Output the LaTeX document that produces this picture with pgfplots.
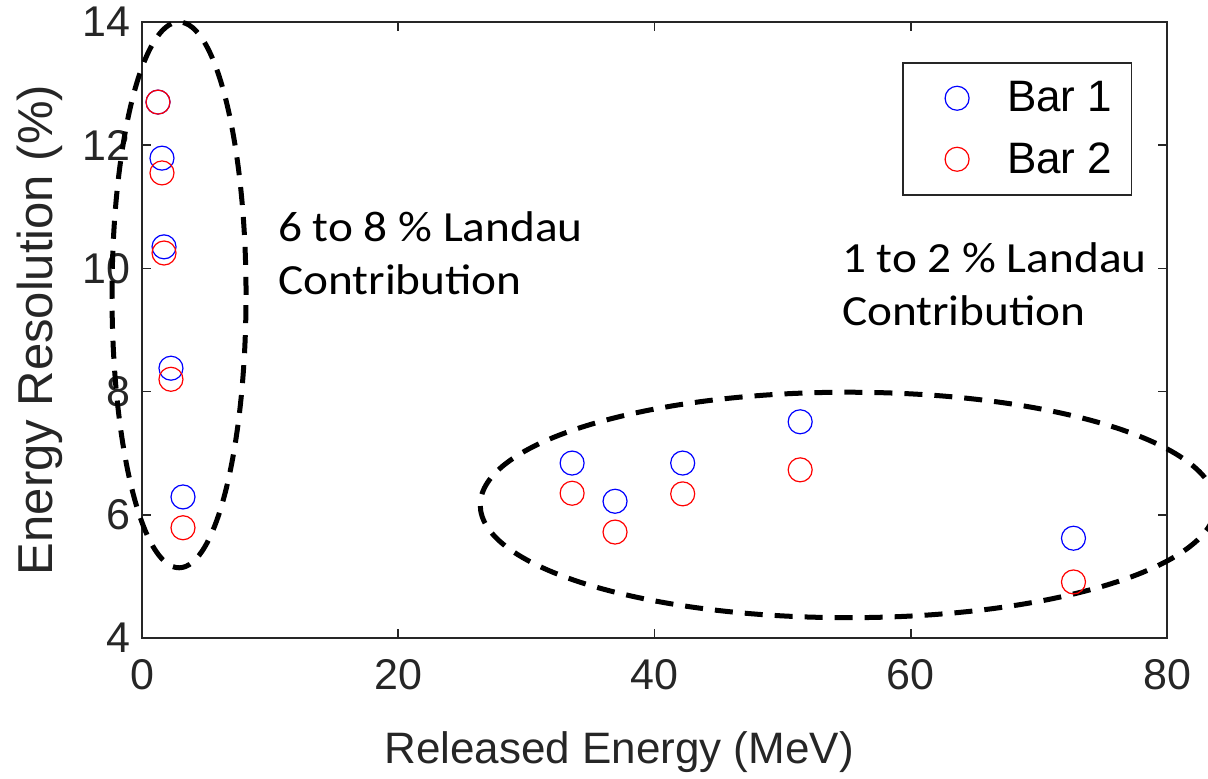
\documentclass[border=0pt]{standalone}
\usepackage{fontspec}
\setmainfont{Liberation Sans}
\newfontfamily\calibri{Carlito}
\usepackage{pgfplots}
\pgfplotsset{compat=1.18}
\definecolor{axgray}{HTML}{262626}

\pgfplotstableread{
x y
1.25 12.70
1.56 11.79
1.72 10.35
2.26 8.38
3.20 6.29
33.57 6.84
36.92 6.22
42.20 6.84
51.37 7.51
72.70 5.62
}\barone
\pgfplotstableread{
x y
1.25 12.70
1.56 11.55
1.72 10.25
2.26 8.20
3.20 5.79
33.57 6.35
36.92 5.72
42.20 6.34
51.37 6.73
72.70 4.91
}\bartwo

\begin{document}
\begin{tikzpicture}
\begin{axis}[
    width=512.5pt, height=308pt, scale only axis,
    xmin=0, xmax=80, ymin=4, ymax=14,
    xtick={0,20,...,80}, ytick={4,6,...,14},
    tick align=inside, major tick length=4.5pt,
    axis line style={axgray, line width=1pt},
    tick style={axgray, line width=0.8pt},
    /pgf/number format/assume math mode=true,
    ticklabel style={font=\fontsize{21.5}{25}\selectfont, text=axgray},
    xticklabel style={yshift=-7pt},
    yticklabel style={xshift=-2.5pt},
    xlabel={Released Energy (MeV)},
    ylabel={Energy Resolution (\%)},
    xlabel style={font=\fontsize{22}{26}\selectfont, text=axgray,
        at={(axis description cs:0.4654,0)}, anchor=base, yshift=-62.5pt},
    ylabel style={font=\fontsize{24.5}{28}\selectfont, text=axgray,
        at={(axis description cs:-0.0878,0.5)}, anchor=base},
    clip=false,
    legend style={at={(1,1)}, anchor=north east, xshift=-17.5pt, yshift=-20pt,
        draw=axgray, line width=0.75pt, inner xsep=9.5pt, inner ysep=2.5pt,
        font=\fontsize{22}{26}\selectfont, nodes={inner sep=0pt}},
    legend image code/.code={
        \draw[#1, only marks] plot coordinates {(0pt,0pt)};
        \path[draw=none, fill=none] (-17.5pt,-15.25pt) rectangle (25pt,15.25pt);
    },
]
\addplot[only marks, mark=o, mark size=6pt, blue, mark options={line width=0.6pt}] table[x=x, y=y] {\barone};
\addplot[only marks, mark=o, mark size=6pt, red, mark options={line width=0.6pt}] table[x=x, y=y] {\bartwo};
\legend{Bar 1, Bar 2}

% dashed groupings
\draw[black, line width=2.5pt, dash pattern=on 9pt off 6pt] (axis cs:2.89,9.57) ellipse [x radius=5.23, y radius=4.43];
\draw[black, line width=2.5pt, dash pattern=on 9pt off 6pt] (axis cs:55.1,6.16) ellipse [x radius=28.7, y radius=1.83];

% annotations
\node[anchor=base west, inner sep=0pt, font=\calibri\fontsize{21.5}{25}\selectfont, xscale=1.1] at (axis cs:10.6,10.43) {6 to 8 \% Landau};
\node[anchor=base west, inner sep=0pt, font=\calibri\fontsize{21.5}{25}\selectfont, xscale=1.1] at (axis cs:10.6,9.57) {Contribution};
\node[anchor=base west, inner sep=0pt, font=\calibri\fontsize{21.5}{25}\selectfont, xscale=1.1] at (axis cs:54.6,9.93) {1 to 2 \% Landau};
\node[anchor=base west, inner sep=0pt, font=\calibri\fontsize{21.5}{25}\selectfont, xscale=1.1] at (axis cs:54.6,9.07) {Contribution};
\end{axis}
\pgfresetboundingbox
\path[use as bounding box] ([xshift=-71pt, yshift=-70pt]current axis.south west) rectangle ([xshift=20.5pt, yshift=11pt]current axis.north east);
\end{tikzpicture}
\end{document}
